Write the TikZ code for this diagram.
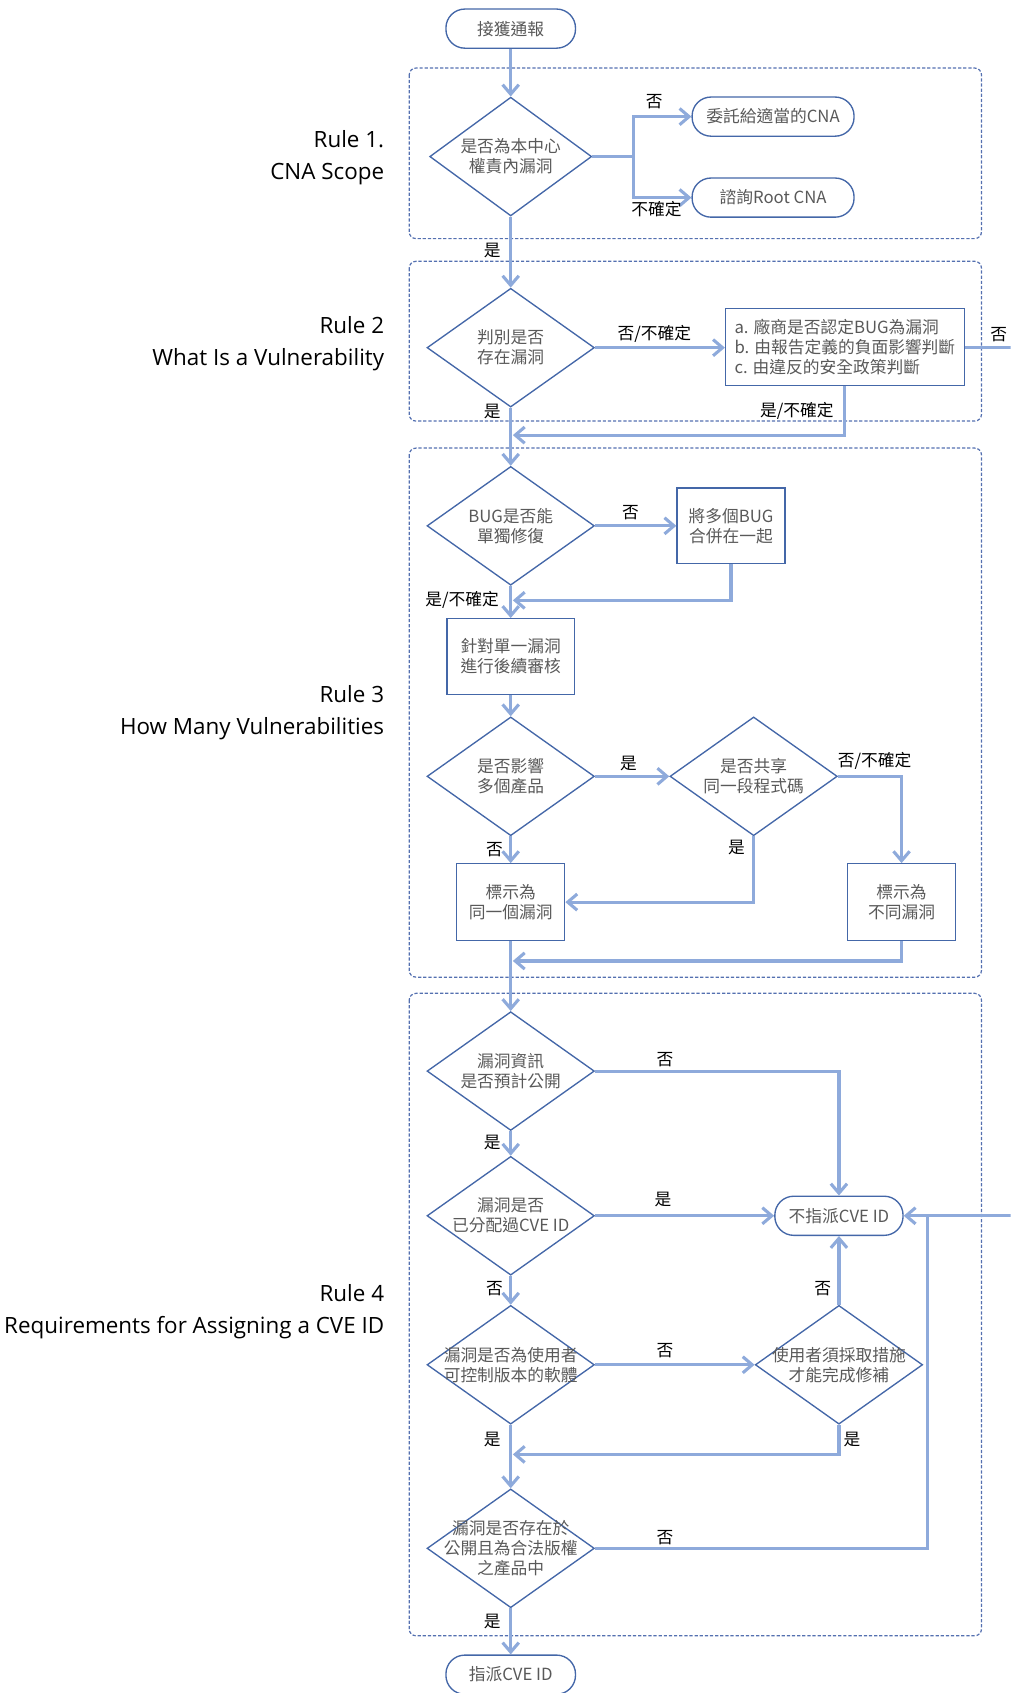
\documentclass[tikz,border=0pt]{standalone}
\usepackage{fontspec}
\setmainfont{Open Sans}
\newfontfamily\cjk{Noto Sans CJK TC}
\usetikzlibrary{shapes.geometric,arrows.meta,calc}
\definecolor{conncol}{RGB}{142,170,219}
\definecolor{nodeb}{RGB}{68,103,168}
\definecolor{dashb}{RGB}{84,112,176}
\definecolor{ntext}{RGB}{89,89,89}
\begin{document}
\begin{tikzpicture}[x=0.8pt,y=-0.8pt,
  every node/.style={font=\cjk\fontsize{12.4}{14.8}\selectfont},
  ntxt/.style={text=ntext,align=center,inner sep=0pt},
  term/.style={ntxt,draw=nodeb,line width=1pt,rounded corners=14pt,minimum height=29pt},
  proc/.style={ntxt,draw=nodeb,line width=1pt},
  dia/.style={draw=nodeb,line width=1pt,diamond,inner sep=0pt,minimum width=124pt,minimum height=88pt},
  dtext/.style={ntxt},
  conn/.style={draw=conncol,line width=2.3pt,-{Straight Barb[length=7pt,width=12pt]}},
  joinline/.style={draw=conncol,line width=2.3pt},
  lbl/.style={text=black,inner sep=0pt},
  rulebox/.style={draw=dashb,line width=0.9pt,dash pattern=on 2.4pt off 1.4pt,rounded corners=5pt},
  rulelbl/.style={font=\fontsize{16.6}{23.6}\selectfont,align=right,anchor=east,text=black,inner sep=0pt}
]
\useasboundingbox (0,0) rectangle (936,1568);
\clip (0,0) rectangle (936,1568);

% rule frames
\draw[rulebox] (379,63) rectangle (909,221);
\draw[rulebox] (379,242) rectangle (909,390);
\draw[rulebox] (379,415) rectangle (909,905);
\draw[rulebox] (379,920) rectangle (909,1515);

% rule labels
\node[rulelbl] (r1) at (356,146) {Rule 1.\\CNA Scope};
\node[rulelbl] (r2) at (356,318) {Rule 2\\What Is a Vulnerability};
\node[rulelbl] (r3) at (356,660) {Rule 3\\How Many Vulnerabilities};
\node[rulelbl] (r4) at (356,1215) {Rule 4\\Requirements for Assigning a CVE ID};

% nodes
\node[term,minimum width=96pt] (start) at (473,26.5) {接獲通報};
\node[dia,minimum width=120pt,label={[dtext]center:{是否為本中心\\權責內漏洞}}] (d1) at (473,145) {};
\node[term,minimum width=120pt] (cna1) at (716,108) {委託給適當的CNA};
\node[term,minimum width=120pt] (cna2) at (716,183) {諮詢Root CNA};
\node[dia,label={[dtext]center:{判別是否\\存在漏洞}}] (d2) at (473,322) {};
\node[proc,minimum width=176.8pt,minimum height=56.8pt,align=left] (crit) at (782.5,321.5) {a. 廠商是否認定BUG為漏洞\\b. 由報告定義的負面影響判斷\\c. 由違反的安全政策判斷};
\node[dia,label={[dtext]center:{BUG是否能\\單獨修復}}] (d3) at (473,487) {};
\node[proc,minimum width=80pt,minimum height=56pt] (merge) at (677,487) {將多個BUG\\合併在一起};
\node[proc,minimum width=94.4pt,minimum height=56pt] (review) at (473,608) {針對單一漏洞\\進行後續審核};
\node[dia,label={[dtext]center:{是否影響\\多個產品}}] (d4) at (473,719) {};
\node[dia,label={[dtext]center:{是否共享\\同一段程式碼}}] (d5) at (698,719) {};
\node[proc,minimum width=80pt,minimum height=56.8pt] (same) at (473,835.5) {標示為\\同一個漏洞};
\node[proc,minimum width=80pt,minimum height=56.8pt] (diff) at (835,835.5) {標示為\\不同漏洞};
\node[dia,label={[dtext]center:{漏洞資訊\\是否預計公開}}] (d6) at (473,992) {};
\node[dia,label={[dtext]center:{漏洞是否\\已分配過CVE ID}}] (d7) at (473,1126) {};
\node[term,minimum width=95pt] (noid) at (777,1126) {不指派CVE ID};
\node[dia,label={[dtext]center:{漏洞是否為使用者\\可控制版本的軟體}}] (d8) at (473,1264) {};
\node[dia,label={[dtext]center:{使用者須採取措施\\才能完成修補}}] (d10) at (777,1264) {};
\node[dia,label={[dtext]center:{漏洞是否存在於\\公開且為合法版權\\之產品中}}] (d9) at (473,1434) {};
\node[term,minimum width=96pt] (yesid) at (473,1551) {指派CVE ID};

% connectors
\coordinate (b1) at (587,145);
\draw[conn] (start) -- (d1);
\draw[joinline] (d1.east) -- (b1);
\draw[conn] (b1) |- (cna1.west);
\draw[conn] (b1) |- (cna2.west);
\draw[conn] (d1) -- (d2);
\draw[conn] (d2.east) -- (d2.east -| crit.west);
\draw[conn] (crit.east) -- ++(80,0) |- (noid.east);
\coordinate (j1) at (475,403);
\draw[conn] (d2) -- (d3);
\draw[conn] (crit.south) |- (j1);
\draw[conn] (d3) -- (merge);
\draw[conn] (d3) -- (review);
\coordinate (j2) at (475,556);
\draw[conn] (merge.south) |- (j2);
\draw[conn] (review) -- (d4);
\draw[conn] (d4) -- (d5);
\draw[conn] (d5.east) -| (diff.north);
\draw[conn] (d5.south) |- (same.east);
\draw[conn] (d4) -- (same);
\draw[conn] (same) -- (d6);
\coordinate (j3) at (475,890);
\draw[conn] (diff.south) |- (j3);
\draw[conn] (d6.east) -| (noid.north);
\draw[conn] (d6) -- (d7);
\draw[conn] (d7) -- (noid);
\draw[conn] (d7) -- (d8);
\draw[conn] (d8) -- (d10);
\draw[conn] (d10) -- (noid);
\coordinate (j4) at (475,1347);
\draw[conn] (d10.south) |- (j4);
\draw[conn] (d8) -- (d9);
\coordinate (j5) at (859,1126);
\draw[joinline] (d9.east) -| (j5);
\draw[conn] (d9) -- (yesid);

% labels
\node[lbl] (l1) at (606,94) {否};
\node[lbl] (l2) at (608,194) {不確定};
\node[lbl] (l3) at (456,232) {是};
\node[lbl] (l4) at (606,309) {否/不確定};
\node[lbl] (l5) at (925,310) {否};
\node[lbl] (l6) at (456,381) {是};
\node[lbl] (l7) at (738,381) {是/不確定};
\node[lbl] (l8) at (584,475) {否};
\node[lbl] (l9) at (428,556) {是/不確定};
\node[lbl] (l10) at (582,707) {是};
\node[lbl] (l11) at (810,705) {否/不確定};
\node[lbl] (l12) at (682,785) {是};
\node[lbl] (l13) at (458,787) {否};
\node[lbl] (l14) at (616,981) {否};
\node[lbl] (l15) at (456,1058) {是};
\node[lbl] (l16) at (614,1111) {是};
\node[lbl] (l17) at (458,1193) {否};
\node[lbl] (l18) at (616,1251) {否};
\node[lbl] (l19) at (762,1193) {否};
\node[lbl] (l20) at (789,1333) {是};
\node[lbl] (l21) at (456,1333) {是};
\node[lbl] (l22) at (616,1424) {否};
\node[lbl] (l23) at (456,1502) {是};
\end{tikzpicture}
\end{document}
